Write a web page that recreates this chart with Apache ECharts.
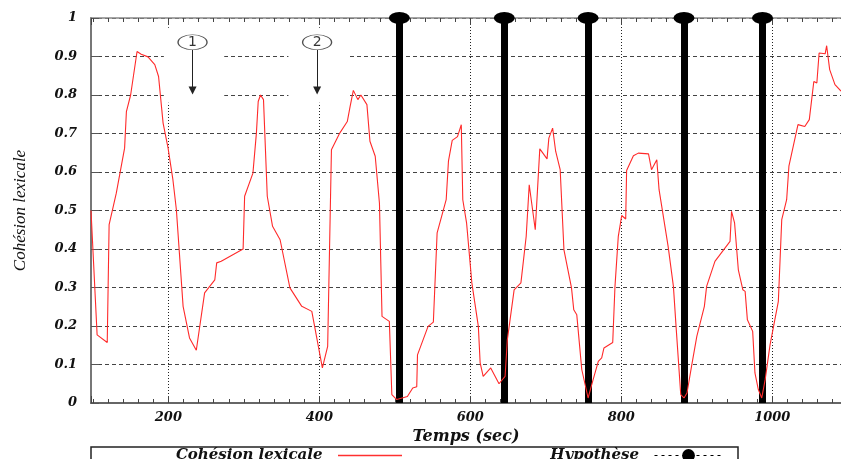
<!DOCTYPE html>
<html>
<head>
<meta charset="utf-8">
<script src="https://cdn.jsdelivr.net/npm/echarts@6/dist/echarts.min.js"></script>
<style>
    html, body { margin: 0; padding: 0; background: #fff; }
    #chart { width: 841px; height: 459px; }
</style>
</head>
<body>
<div id="chart"></div>
<script>
    // temps (sec) et cohésion lexicale
    const temps = [97.5, 105.6, 119, 121.5, 131, 142, 144.4, 150, 158.5, 164,
        173, 182, 187, 193, 199.6, 206, 210.6, 219.5, 228, 237,
        248, 261.5, 264, 270, 299, 301, 312, 316.6, 319, 322,
        326, 331, 338, 348, 361, 376.7, 390, 404, 411, 416,
        427, 437, 440.7, 445, 451, 455, 463, 467, 474, 479.6,
        483, 492.7, 496, 502.5, 516.6, 523.7, 529, 530, 544, 551,
        556, 568, 571, 576, 583, 588, 590, 595, 602, 610.6,
        613, 617, 627, 638, 646, 649, 658, 667, 674, 678,
        686, 692, 701.6, 704, 709, 713, 719, 724, 734, 737,
        741, 747.6, 756, 762, 769.5, 774, 777, 788.6, 791.6, 796,
        800.5, 805.8, 807, 816, 822.5, 836, 840, 847, 850, 862,
        869, 872.5, 878.7, 883, 887, 893, 900, 910, 913, 924,
        944, 946, 950, 955, 961, 964, 967, 974, 977, 981.5,
        986, 990.5, 997, 1008, 1012.5, 1019, 1022, 1024, 1034, 1043,
        1049, 1055, 1059, 1062, 1070, 1072, 1076, 1083, 1091];
    const cohesion = [0.50, 0.177, 0.157, 0.463, 0.545, 0.662, 0.757, 0.80, 0.913, 0.906,
        0.899, 0.879, 0.848, 0.727, 0.662, 0.58, 0.502, 0.251, 0.169, 0.137,
        0.286, 0.32, 0.364, 0.368, 0.40, 0.537, 0.597, 0.701, 0.783, 0.80,
        0.788, 0.537, 0.459, 0.424, 0.299, 0.251, 0.238, 0.091, 0.147, 0.658,
        0.701, 0.731, 0.77, 0.812, 0.788, 0.80, 0.775, 0.68, 0.641, 0.519,
        0.225, 0.212, 0.022, 0.009, 0.017, 0.039, 0.042, 0.125, 0.199, 0.21,
        0.442, 0.528, 0.628, 0.682, 0.692, 0.723, 0.528, 0.468, 0.312, 0.199,
        0.104, 0.069, 0.091, 0.05, 0.069, 0.164, 0.294, 0.312, 0.433, 0.567,
        0.45, 0.66, 0.634, 0.688, 0.714, 0.654, 0.606, 0.398, 0.299, 0.242,
        0.229, 0.087, 0.013, 0.056, 0.108, 0.117, 0.143, 0.157, 0.303, 0.433,
        0.487, 0.478, 0.604, 0.642, 0.649, 0.647, 0.606, 0.632, 0.554, 0.407,
        0.303, 0.199, 0.022, 0.013, 0.026, 0.095, 0.173, 0.251, 0.303, 0.368,
        0.42, 0.498, 0.468, 0.346, 0.294, 0.29, 0.216, 0.186, 0.078, 0.035,
        0.013, 0.06, 0.151, 0.264, 0.476, 0.528, 0.615, 0.62, 0.723, 0.718,
        0.736, 0.835, 0.831, 0.909, 0.907, 0.928, 0.866, 0.827, 0.81];
    // frontières proposées (hypothèse)
    const hypotheses = [506, 645, 756, 883, 987];
    // repères annotés
    const reperes = [232, 397];
    const repereLabels = ['1', '2'];
    const repereHaut = 0.937;
    const repereBas = 0.80;

    const xMin = 97.5;
    const xMax = 1091;

    const tickFont = {
        fontFamily: 'DejaVu Serif',
        fontStyle: 'italic',
        fontWeight: 'bold',
        fontSize: 13,
        color: '#111'
    };
    const legendFont = {
        fontFamily: 'DejaVu Serif',
        fontStyle: 'italic',
        fontWeight: 'bold',
        fontSize: 15,
        color: '#111'
    };

    const chart = echarts.init(document.getElementById('chart'));
    chart.setOption({
        animation: false,
        grid: {left: 91, right: 0, top: 18, bottom: 56},
        legend: [
            {
                data: [{
                    name: 'Cohésion lexicale',
                    icon: 'rect',
                    itemStyle: {color: '#ff3030', opacity: 1}
                }],
                right: 841 - 402,
                top: 448,
                align: 'right',
                padding: 0,
                itemWidth: 64,
                itemHeight: 1.5,
                formatter: name => name + '  ',
                textStyle: legendFont
            },
            {
                data: [{
                    name: 'Hypothèse',
                    itemStyle: {color: '#000'},
                    lineStyle: {color: '#000', width: 1, type: [3, 4], opacity: 1}
                }],
                right: 841 - 723,
                top: 448,
                align: 'right',
                padding: 0,
                itemWidth: 68,
                itemHeight: 16,
                formatter: name => name + '  ',
                textStyle: legendFont
            }
        ],
        xAxis: [
            {
                type: 'value',
                min: xMin,
                max: xMax,
                splitNumber: 5,
                name: 'Temps (sec)',
                nameLocation: 'middle',
                nameGap: 25,
                nameTextStyle: {
                    fontFamily: 'DejaVu Serif',
                    fontStyle: 'italic',
                    fontWeight: 'bold',
                    fontSize: 16,
                    color: '#111'
                },
                axisLine: {onZero: false, lineStyle: {color: '#666', width: 2}},
                axisTick: {inside: true, length: 7, lineStyle: {color: '#444'}},
                minorTick: {show: true, splitNumber: 10, length: 4, lineStyle: {color: '#444'}},
                axisLabel: Object.assign({
                    margin: 8,
                    showMinLabel: false,
                    showMaxLabel: false,
                    formatter: v => String(v)
                }, tickFont),
                splitLine: {show: true, lineStyle: {color: '#222', type: [1, 2], width: 1}}
            },
            {
                type: 'value',
                position: 'top',
                min: xMin,
                max: xMax,
                splitNumber: 5,
                axisLine: {onZero: false, lineStyle: {color: '#888', width: 1.5}},
                axisTick: {inside: true, length: 7, lineStyle: {color: '#444'}},
                minorTick: {show: true, splitNumber: 10, length: 4, lineStyle: {color: '#444'}},
                axisLabel: {show: false},
                splitLine: {show: false}
            }
        ],
        yAxis: {
            type: 'value',
            min: 0,
            max: 1,
            interval: 0.1,
            name: 'Cohésion lexicale',
            nameLocation: 'middle',
            nameGap: 62,
            nameRotate: 90,
            nameTextStyle: {
                fontFamily: 'Liberation Serif',
                fontStyle: 'italic',
                fontSize: 17,
                color: '#111'
            },
            axisLine: {show: true, lineStyle: {color: '#777', width: 2}},
            axisTick: {show: true, inside: true, length: 8, lineStyle: {color: '#555'}},
            axisLabel: Object.assign({margin: 14}, tickFont),
            splitLine: {show: true, lineStyle: {color: '#444', type: [4, 3], width: 1}}
        },
        series: [
            {
                name: 'Cohésion lexicale',
                type: 'line',
                z: 10,
                symbol: 'none',
                data: temps.map((t, i) => [t, cohesion[i]]),
                lineStyle: {color: '#ff2a2a', width: 1.1},
                itemStyle: {color: '#ff2a2a'}
            },
            {
                name: 'Hypothèse',
                type: 'line',
                clip: false,
                symbol: 'circle',
                symbolSize: [21, 12],
                data: hypotheses.map(t => [t, 1]),
                itemStyle: {color: '#000'},
                lineStyle: {opacity: 0},
                markLine: {
                    silent: true,
                    symbol: ['none', 'none'],
                    label: {show: false},
                    lineStyle: {color: '#000', width: 7, type: 'solid'},
                    data: hypotheses.map(t => ({xAxis: t}))
                }
            },
            {
                name: 'repères',
                type: 'scatter',
                z: 6,
                symbol: 'circle',
                symbolSize: [29, 15],
                data: reperes.map((t, i) => [t, repereHaut, repereLabels[i]]),
                itemStyle: {color: '#fff', borderColor: '#222', borderWidth: 1},
                label: {
                    show: true,
                    position: 'inside',
                    formatter: p => p.data[2],
                    fontFamily: 'DejaVu Sans',
                    fontSize: 14,
                    color: '#000'
                },
                markLine: {
                    silent: true,
                    symbol: ['none', 'triangle'],
                    symbolSize: 8,
                    label: {show: false},
                    lineStyle: {color: '#222', width: 1, type: 'solid'},
                    data: reperes.map(t => [{coord: [t, repereHaut - 0.02]}, {coord: [t, repereBas + 0.012]}])
                }
            }
        ]
    });

    // zones blanches autour des repères (la grille y est interrompue)
    const boxes = reperes.map(t => {
        const a = chart.convertToPixel({xAxisIndex: 0, yAxisIndex: 0}, [t - 38, 0.975]);
        const b = chart.convertToPixel({xAxisIndex: 0, yAxisIndex: 0}, [t + 42, 0.78]);
        return {
            type: 'rect',
            z: 1,
            silent: true,
            shape: {x: a[0], y: a[1], width: b[0] - a[0], height: b[1] - a[1]},
            style: {fill: '#fff'}
        };
    });
    boxes.push({
        type: 'rect',
        z: 1,
        silent: true,
        shape: {x: 91, y: 447, width: 647, height: 30},
        style: {fill: 'none', stroke: '#222', lineWidth: 1.5}
    });
    chart.setOption({graphic: {elements: boxes}});
</script>
</body>
</html>
